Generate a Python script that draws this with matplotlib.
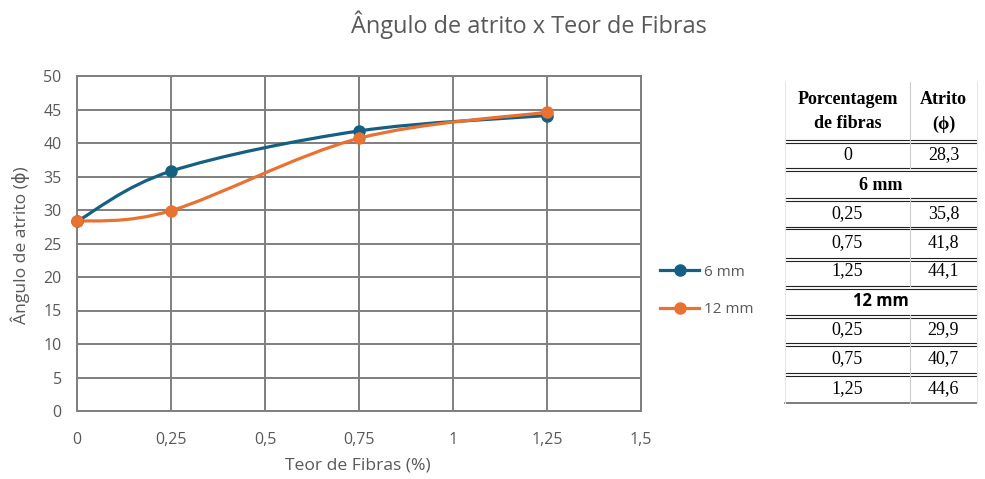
import numpy as np
import matplotlib.pyplot as plt
from matplotlib.path import Path
from matplotlib.patches import PathPatch
from matplotlib.lines import Line2D

# dados do ensaio
teor = [0, 0.25, 0.75, 1.25]
atrito_6mm = [28.3, 35.8, 41.8, 44.1]
atrito_12mm = [28.3, 29.9, 40.7, 44.6]
series_names = ['6 mm', '12 mm']
series_colors = ['#156082', '#E97132']

x_ticks = [0, 0.25, 0.5, 0.75, 1, 1.25, 1.5]
x_tick_labels = ['0', '0,25', '0,5', '0,75', '1', '1,25', '1,5']
y_ticks = list(range(0, 51, 5))

plt.rcParams['font.family'] = ['Open Sans', 'DejaVu Sans']

W, H = 985, 479
GRAY = '#595959'
GRID = '#7f7f7f'


def fx(px):
    return px / W


def fy(py):
    return 1 - py / H


def smooth_path(x, y):
    # curva suavizada (bezier tipo catmull-rom)
    pts = np.column_stack([x, y]).astype(float)
    n = len(pts)
    verts = [pts[0]]
    codes = [Path.MOVETO]
    for i in range(n - 1):
        p0 = pts[max(i - 1, 0)]
        p1 = pts[i]
        p2 = pts[i + 1]
        p3 = pts[min(i + 2, n - 1)]
        verts += [p1 + (p2 - p0) / 6, p2 - (p3 - p1) / 6, p2]
        codes += [Path.CURVE4] * 3
    return Path(verts, codes)


def fmt(v):
    return f'{v:g}'.replace('.', ',')


fig = plt.figure(figsize=(W / 100, H / 100), dpi=100)
ax = fig.add_axes([fx(77), fy(411), fx(641) - fx(77), fy(76) - fy(411)])

ax.set_xlim(0, 1.5)
ax.set_ylim(0, 50)
ax.set_xticks(x_ticks)
ax.set_xticklabels(x_tick_labels)
ax.set_yticks(y_ticks)
ax.grid(True, color=GRID, linewidth=1.4)
ax.set_axisbelow(True)
for s in ax.spines.values():
    s.set_color(GRID)
    s.set_linewidth(1.4)
ax.tick_params(length=0, labelsize=11.5, labelcolor=GRAY)
ax.tick_params(axis='x', pad=15)
ax.tick_params(axis='y', pad=11)

handles = []
for vals, name, c in zip([atrito_6mm, atrito_12mm], series_names, series_colors):
    ax.add_patch(PathPatch(smooth_path(teor, vals), fill=False, edgecolor=c,
                           linewidth=2.3, capstyle='round', zorder=3))
    ax.plot(teor, vals, 'o', color=c, markersize=8, zorder=4, clip_on=False)
    handles.append(Line2D([], [], color=c, linewidth=2.3, marker='o', markersize=8))

fig.text(fx(358), fy(466), 'Teor de Fibras (%)', fontsize=12.6, color=GRAY,
         ha='center', va='center')
fig.text(fx(20), fy(245), 'Ângulo de atrito (ϕ)', rotation=90, fontsize=12.6,
         color=GRAY, ha='center', va='center')
fig.text(fx(529), fy(25), 'Ângulo de atrito x Teor de Fibras', fontsize=16.9,
         color=GRAY, ha='center', va='center')

fig.legend(handles=handles, labels=series_names, loc='center left',
           bbox_to_anchor=(fx(646), fy(291)), frameon=False, fontsize=11,
           labelcolor=GRAY, handlelength=2.6, handletextpad=0.3, labelspacing=1.5)

# tabela ao lado
SERIF = 'Liberation Serif'
FS = 13
x0, x1, xc = 785, 977, 910
col1 = (x0 + xc) / 2
col2 = (xc + x1) / 2

fig.text(fx(col1), fy(99), 'Porcentagem', family=SERIF, fontsize=FS,
         weight='bold', ha='center', va='center')
fig.text(fx(col1), fy(124), 'de fibras', family=SERIF, fontsize=FS,
         weight='bold', ha='center', va='center')
fig.text(fx(col2), fy(99), 'Atrito', family=SERIF, fontsize=FS,
         weight='bold', ha='center', va='center')
fig.text(fx(col2), fy(124), '(ϕ)', family=[SERIF, 'DejaVu Serif'], fontsize=FS,
         weight='bold', ha='center', va='center')

rows = [(155, fmt(teor[0]), fmt(atrito_6mm[0]))]
rows += [(y, fmt(t), fmt(a)) for y, t, a in zip([214, 243, 271], teor[1:], atrito_6mm[1:])]
rows += [(y, fmt(t), fmt(a)) for y, t, a in zip([330, 359, 389], teor[1:], atrito_12mm[1:])]
for y, t, a in rows:
    fig.text(fx(col1), fy(y), t, family=SERIF, fontsize=FS, ha='center', va='center')
    fig.text(fx(col2), fy(y), a, family=SERIF, fontsize=FS, ha='center', va='center')

fig.text(fx((x0 + x1) / 2), fy(185), series_names[0], family=SERIF, fontsize=FS,
         weight='bold', ha='center', va='center')
fig.text(fx((x0 + x1) / 2), fy(301), series_names[1], fontsize=12,
         weight='bold', ha='center', va='center')

for y in [140, 168, 198, 227, 258, 286, 315, 343, 373]:
    for dy in (0, 2.5):
        fig.add_artist(Line2D([fx(x0), fx(x1)], [fy(y + dy), fy(y + dy)],
                              color='#222222', linewidth=0.8))
fig.add_artist(Line2D([fx(x0), fx(x1)], [fy(403), fy(403)], color='#666666', linewidth=1.2))
# separador de colunas, interrompido nas linhas mescladas
for ya, yb in [(82, 168), (198, 286), (315, 403)]:
    fig.add_artist(Line2D([fx(xc), fx(xc)], [fy(ya), fy(yb)], color='#cccccc', linewidth=0.8))
for x in (x0, x1):
    fig.add_artist(Line2D([fx(x), fx(x)], [fy(82), fy(403)], color='#e6e6e6', linewidth=0.8))

fig.savefig('out.png', dpi=100)
